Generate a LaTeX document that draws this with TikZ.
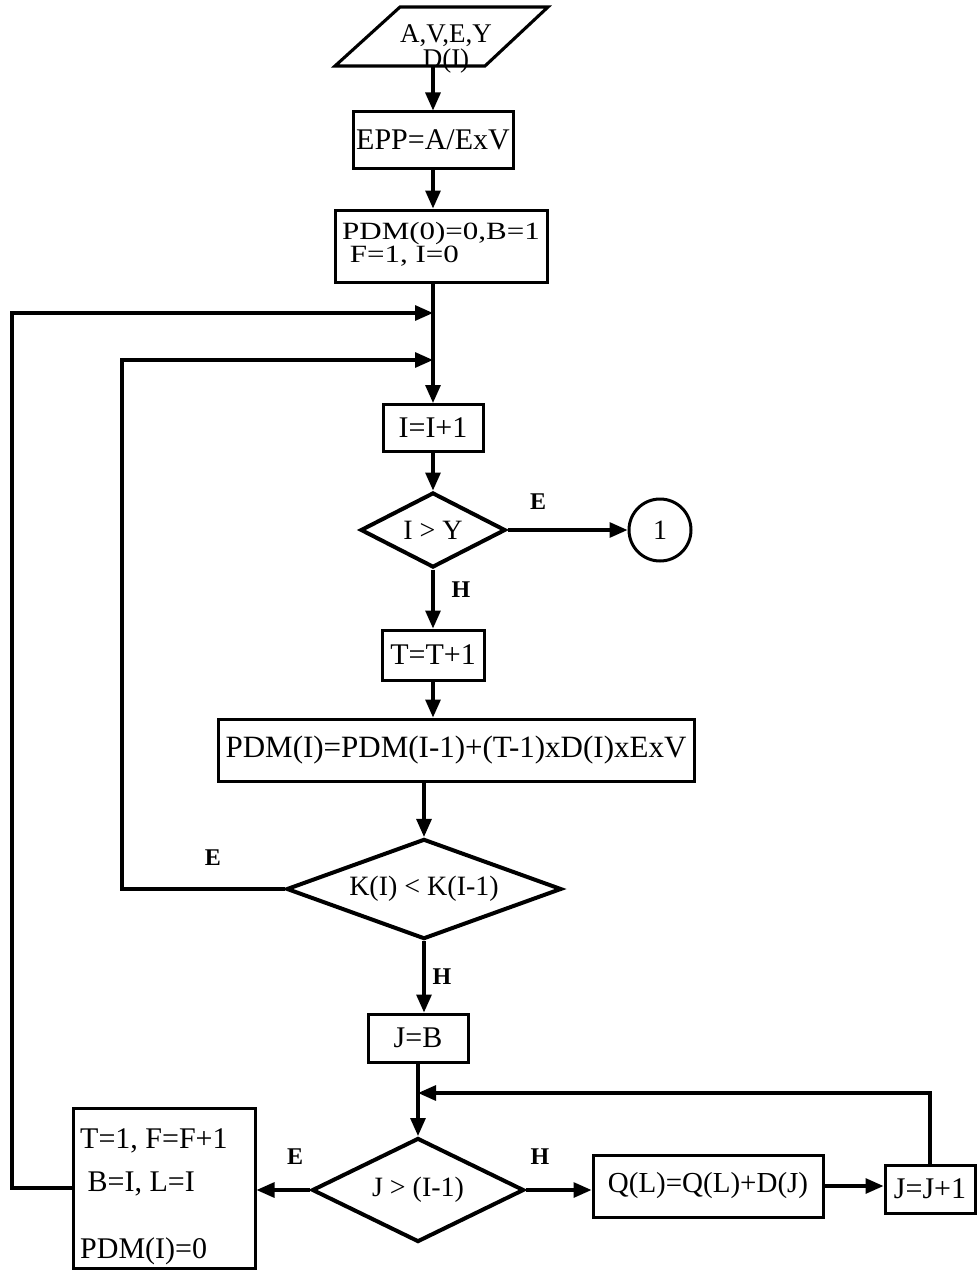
\documentclass[tikz,border=0pt]{standalone}
\usepackage{fontspec}
\setmainfont{Liberation Serif}
\usetikzlibrary{shapes.geometric,arrows.meta,calc}
\begin{document}
\begin{tikzpicture}[x=1pt,y=-1pt,
  every node/.style={font=\fontsize{30}{32}\selectfont, inner sep=0pt},
  pbox/.style={draw, line width=3pt, rectangle},
  dbox/.style={draw, line width=4pt, diamond, aspect=2, font=\fontsize{28}{30}\selectfont},
  conn/.style={line width=3.1pt},
  arr/.style={conn, -{Triangle[length=18pt,width=15pt]}},
  lab/.style={font=\fontsize{24}{26}\selectfont\bfseries}
]
\useasboundingbox (0,0) rectangle (979,1271);
% input parallelogram
\coordinate (p1) at (400,7);
\coordinate (p2) at (548,7);
\coordinate (p3) at (485,66);
\coordinate (p4) at (335,66);
\draw[conn] (p1) -- (p2) -- (p3) -- (p4) -- cycle;
\node[align=center, font=\fontsize{27}{25}\selectfont] (inp) at (446,49) {A,V,E,Y\\D(I)};
\coordinate (inb) at (433,66);
% boxes
\node[pbox, minimum width=160, minimum height=56] (epp) at (433,140) {EPP=A/ExV};
\node[pbox, minimum width=212, minimum height=72] (pdm0) at (441,246)
  {\scalebox{1}[0.8]{\fontsize{31}{27}\selectfont\begin{tabular}{@{}l@{}}PDM(0)=0,B=1\\ \ F=1, I=0\end{tabular}}};
\coordinate (j1) at (433,313);
\coordinate (j2) at (433,360);
\node[pbox, minimum width=100, minimum height=47] (inc) at (433,428) {I=I+1};
\node[dbox, minimum width=145, minimum height=75] (d1) at (433,530) {I > Y};
\node[draw, circle, line width=3pt, minimum size=62, font=\fontsize{28}{30}\selectfont] (c1) at (660,530) {1};
\node[pbox, minimum width=102, minimum height=50] (t1) at (433,655) {T=T+1};
\node[pbox, minimum width=476, minimum height=62, font=\fontsize{31}{33}\selectfont] (pdmi) at (456,750) {PDM(I)=PDM(I-1)+(T-1)xD(I)xExV};
\node[dbox, minimum width=275, minimum height=98] (d2) at (424,889) {K(I) < K(I-1)};
\node[pbox, minimum width=100, minimum height=48] (jb) at (418,1038) {J=B};
\coordinate (j3) at (418,1093);
\node[dbox, minimum width=212, minimum height=104] (d3) at (418,1190) {J > (I-1)};
\node[pbox, minimum width=182, minimum height=160] (tb) at (164,1188) {};
\node[anchor=north west, align=left, font=\fontsize{30}{43}\selectfont] (tbt) at (80,1128) {T=1, F=F+1\\\ B=I, L=I\\[24pt]PDM(I)=0};
\node[pbox, minimum width=230, minimum height=62, font=\fontsize{29}{31}\selectfont] (q) at (708,1186) {Q(L)=Q(L)+D(J)};
\node[pbox, minimum width=90, minimum height=48] (jj) at (930,1189) {J=J+1};
\coordinate (lo) at (12,1188);
\coordinate (li) at (122,889);
% labels
\node[lab] (le1) at (538,502) {E};
\node[lab] (lh1) at (461,590) {H};
\node[lab] (le2) at (213,858) {E};
\node[lab] (lh2) at (442,977) {H};
\node[lab] (le3) at (295,1157) {E};
\node[lab] (lh3) at (540,1157) {H};
% connectors
\draw[arr] (inb) -- (epp.north);
\draw[arr] (epp.south) -- (epp.south |- pdm0.north);
\draw[conn] (j1 |- pdm0.south) -- (j2);
\draw[arr] (j2) -- (inc.north);
\draw[arr] (inc.south) -- (d1.north);
\draw[arr] (d1.east) -- (c1.west);
\draw[arr] (d1.south) -- (t1.north);
\draw[arr] (t1.south) -- (t1.south |- pdmi.north);
\draw[arr] (d2.north |- pdmi.south) -- (d2.north);
\draw[arr] (d2.west) -- (li) |- (j2);
\draw[arr] (d2.south) -- (d2.south |- jb.north);
\draw[conn] (jb.south) -- (j3);
\draw[arr] (j3) -- (d3.north);
\draw[arr] (d3.west) -- (d3.west -| tb.east);
\draw[arr] (d3.east) -- (d3.east -| q.west);
\draw[arr] (q.east) -- (q.east -| jj.west);
\draw[arr] (jj.north) |- (j3);
\draw[arr] (tb.west) -- (lo) |- (j1);
\end{tikzpicture}
\end{document}
